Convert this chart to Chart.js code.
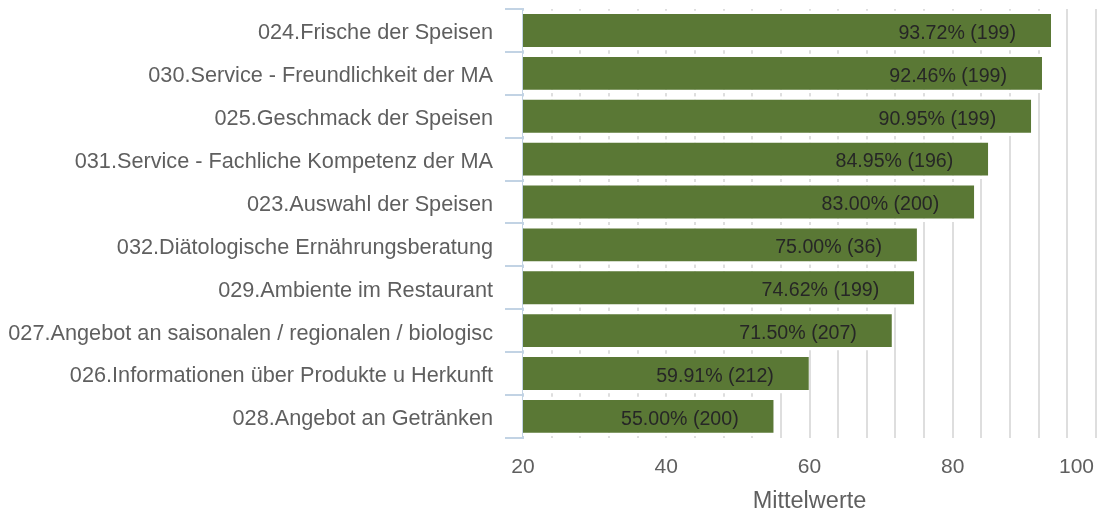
<!DOCTYPE html>
<html>
<head>
<meta charset="utf-8">
<script src="https://cdn.jsdelivr.net/npm/chart.js@4"></script>
<style>
  html, body { margin: 0; padding: 0; background: #fff; }
  #wrap { width: 1100px; height: 516px; }
</style>
</head>
<body>
<div id="wrap"><canvas id="chartMittelwerte"></canvas></div>
<script>
// Mittelwerte je Frage (Prozent) und Anzahl Antworten
const fragen = [
    '024.Frische der Speisen',
    '030.Service - Freundlichkeit der MA',
    '025.Geschmack der Speisen',
    '031.Service - Fachliche Kompetenz der MA',
    '023.Auswahl der Speisen',
    '032.Diätologische Ernährungsberatung',
    '029.Ambiente im Restaurant',
    '027.Angebot an saisonalen / regionalen / biologisc',
    '026.Informationen über Produkte u Herkunft',
    '028.Angebot an Getränken'
];
const mittelwerte = [93.72, 92.46, 90.95, 84.95, 83.00, 75.00, 74.62, 71.50, 59.91, 55.00];
const anzahl = [199, 199, 199, 196, 200, 36, 199, 207, 212, 200];
const xLabels = [20, 40, 60, 80, 100];

const grau = '#5f5f5f';
const fontName = "'Liberation Sans', Arial, sans-serif";

// Werte-Beschriftung rechtsbündig innerhalb der Balken
const wertePlugin = {
    id: 'werte',
    afterDatasetsDraw(chart) {
        const ctx = chart.ctx;
        const meta = chart.getDatasetMeta(0);
        ctx.save();
        ctx.font = '19.6px ' + fontName;
        ctx.fillStyle = '#262626';
        ctx.textAlign = 'right';
        ctx.textBaseline = 'middle';
        meta.data.forEach((bar, i) => {
            const txt = mittelwerte[i].toFixed(2) + '% (' + anzahl[i] + ')';
            ctx.fillText(txt, bar.x - 35, bar.y + 3);
        });
        ctx.restore();
    }
};

// Achsenbeschriftung unten, letzte Zahl bleibt im Bild
const xLabelPlugin = {
    id: 'xlabels',
    afterDraw(chart) {
        const ctx = chart.ctx;
        const sx = chart.scales.x;
        ctx.save();
        ctx.font = '21px ' + fontName;
        ctx.fillStyle = grau;
        ctx.textAlign = 'left';
        ctx.textBaseline = 'middle';
        xLabels.forEach(v => {
            const txt = String(v);
            const w = ctx.measureText(txt).width;
            let x = sx.getPixelForValue(v) - w / 2;
            x = Math.min(x, chart.width - 6 - w);
            ctx.fillText(txt, x, sx.top + 29.5);
        });
        ctx.restore();
    }
};

const ctxMittel = document.getElementById('chartMittelwerte');
Chart.defaults.maintainAspectRatio = false;
Chart.defaults.responsive = true;
Chart.defaults.animation = false;

new Chart(ctxMittel, {
    type: 'bar',
    data: {
        labels: fragen,
        datasets: [{
            data: mittelwerte,
            backgroundColor: '#5a7835',
            borderColor: '#ffffff',
            borderWidth: { top: 3.5, bottom: 3.5, left: 0, right: 0 },
            borderSkipped: false,
            barPercentage: 0.93,
            categoryPercentage: 1
        }]
    },
    options: {
        indexAxis: 'y',
        layout: { padding: { top: 9, right: 4, bottom: 0, left: 0 } },
        plugins: {
            legend: { display: false },
            tooltip: { enabled: false }
        },
        scales: {
            x: {
                min: 20,
                max: 100,
                border: { display: false },
                grid: {
                    color: '#dedede',
                    lineWidth: 2,
                    drawTicks: false
                },
                ticks: {
                    display: false,
                    stepSize: 4,
                    autoSkip: false
                },
                title: {
                    display: true,
                    text: 'Mittelwerte',
                    color: grau,
                    font: { family: fontName, size: 23.5 },
                    padding: { top: 50, bottom: 0 }
                }
            },
            y: {
                z: 1,
                afterFit(scale) {
                    scale.width = 523;
                    scale.paddingTop = 0;
                    scale.paddingBottom = 0;
                },
                border: { display: true, color: '#c2d3e4', width: 2 },
                grid: {
                    offset: true,
                    drawOnChartArea: false,
                    color: '#c2d3e4',
                    lineWidth: 2,
                    tickLength: 18
                },
                ticks: {
                    color: grau,
                    padding: 12,
                    labelOffset: 3,
                    font: { family: fontName, size: 21.7 }
                }
            }
        }
    },
    plugins: [wertePlugin, xLabelPlugin]
});
</script>
</body>
</html>
